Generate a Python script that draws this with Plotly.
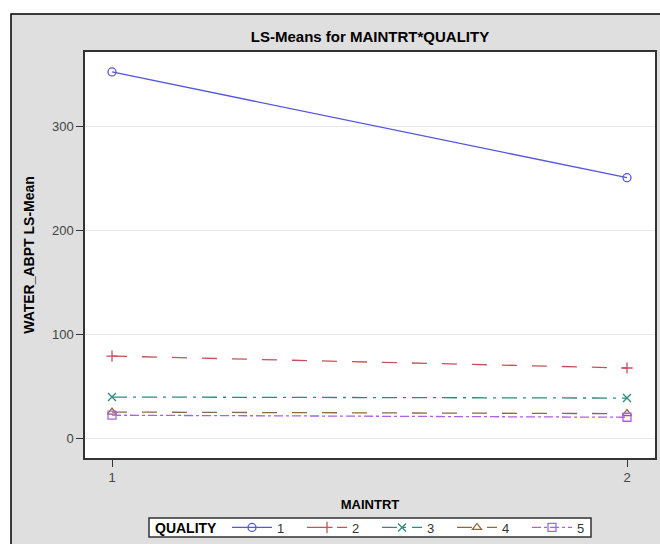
import plotly.graph_objects as go

maintrt = [1, 2]
quality = ["1", "2", "3", "4", "5"]
q1 = [353, 251]
q2 = [79, 67.5]
q3 = [39.5, 38.5]
q4 = [25, 23.5]
q5 = [22, 20]
series = [q1, q2, q3, q4, q5]
y_ticks = [0, 100, 200, 300]

colors = ["#5555E0", "#C8505C", "#2E8A7E", "#8A6A3E", "#B060E6"]
dashes = ["solid", "longdash", "longdashdot", "longdash", "dashdot"]
symbols = ["circle-open", "cross-thin-open", "x-thin-open", "triangle-up-open", "square-open"]

W, H = 660, 544
L, R, T, B = 85, 655, 52, 458

fig = go.Figure()
for name, ys, c, d, s in zip(quality, series, colors, dashes, symbols):
    fig.add_trace(go.Scatter(
        x=maintrt, y=ys, name=name, mode="lines+markers",
        line=dict(color=c, width=1.3, dash=d),
        marker=dict(symbol=s, size=8, color=c, line=dict(color=c, width=1.3)),
    ))

pw, ph = R - L, B - T
def px(x):
    return (x - L) / pw
def py(y):
    return (B - y) / ph

# outer gray frame
fig.add_shape(type="rect", xref="paper", yref="paper",
              x0=px(11), x1=px(680), y0=py(14), y1=py(600),
              fillcolor="#DFDFDF", line=dict(color="black", width=1.5), layer="below")
# plot area background
fig.add_shape(type="rect", xref="paper", yref="paper",
              x0=0, x1=1, y0=0, y1=1,
              fillcolor="white", line=dict(width=0), layer="below")
# legend box
fig.add_shape(type="rect", xref="paper", yref="paper",
              x0=px(149), x1=px(591), y0=py(518), y1=py(537),
              fillcolor="white", line=dict(color="#333333", width=1.5), layer="below")
fig.add_annotation(text="<b>QUALITY</b>", xref="paper", yref="paper",
                   x=px(153), y=py(527.5), xanchor="left", yanchor="middle",
                   showarrow=False, font=dict(size=14, color="black"))

fig.update_layout(
    width=W, height=H,
    margin=dict(l=L, r=W - R, t=T, b=H - B, pad=0, autoexpand=False),
    paper_bgcolor="white", plot_bgcolor="white",
    font=dict(family="Liberation Sans, Arial, sans-serif", size=13, color="#444444"),
    title=dict(text="<b>LS-Means for MAINTRT*QUALITY</b>", x=px(370), xref="paper",
               xanchor="center", y=1 - 37 / H, yanchor="middle",
               font=dict(size=15, color="black")),
    showlegend=True,
    legend=dict(orientation="h", x=227 / W, y=1 - 527.5 / H, xref="container", yref="container",
                xanchor="left", yanchor="middle",
                bgcolor="rgba(0,0,0,0)", borderwidth=0,
                font=dict(size=13, color="#333333"), itemwidth=40, entrywidth=20,
                tracegroupgap=0),
)
fig.update_xaxes(
    range=[1 - 27 / 515, 2 + 28 / 515], tickvals=maintrt, ticktext=["1", "2"],
    showgrid=False, zeroline=False, showline=True, linecolor="#333333", linewidth=1.5,
    mirror=True, ticks="outside", ticklen=7, tickcolor="#333333",
    title=dict(text="<b>MAINTRT</b>", font=dict(size=13, color="black"), standoff=18),
)
fig.update_yaxes(
    range=[(438 - 458) / 1.037, (438 - 52) / 1.037], tickvals=y_ticks,
    showgrid=True, gridcolor="#E8E8E8", gridwidth=1, zeroline=False,
    showline=True, linecolor="#333333", linewidth=1.5, mirror=True,
    ticks="outside", ticklen=7, tickcolor="#333333",
    title=dict(text="<b>WATER_ABPT LS-Mean</b>", font=dict(size=14, color="black"), standoff=14),
)

fig.write_html("out.html")
